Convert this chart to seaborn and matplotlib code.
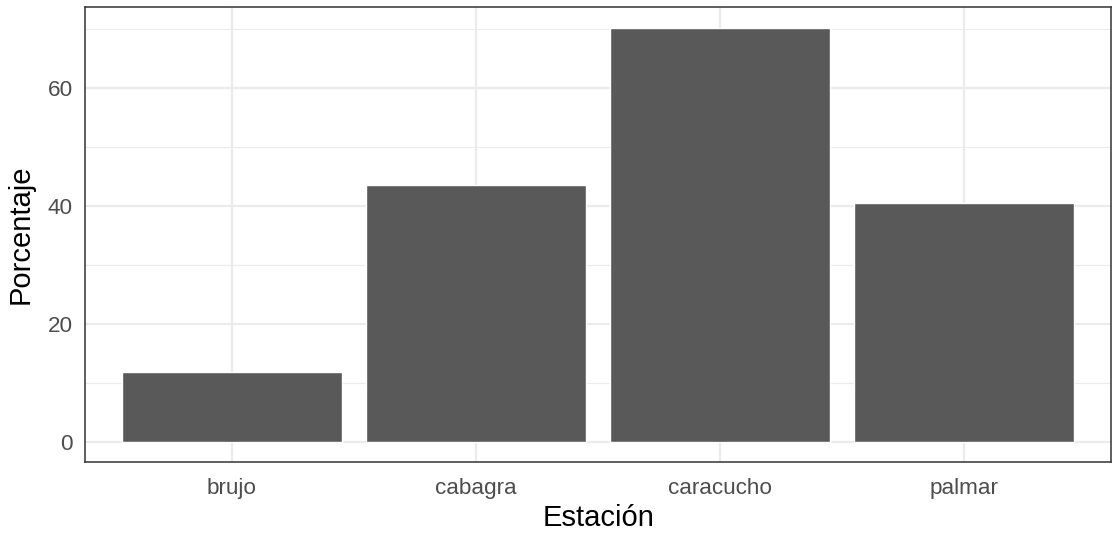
import pandas as pd
import matplotlib.pyplot as plt
import seaborn as sns

# Porcentaje por estacion
estaciones = ['brujo', 'cabagra', 'caracucho', 'palmar']
porcentajes = [11.8, 43.5, 70.3, 40.6]

df = pd.DataFrame({'Estación': estaciones, 'Porcentaje': porcentajes})

sns.set_style('white')
plt.rcParams['font.family'] = ['Liberation Sans', 'DejaVu Sans']

fig = plt.figure(figsize=(11.13, 5.36), dpi=100)
ax = fig.add_axes([0.0767, 0.1375, 0.9213, 0.8495])

sns.barplot(x='Estación', y='Porcentaje', data=df, color='#595959',
            saturation=1, width=0.9, ax=ax, zorder=3)

# theme_bw style grid
ax.set_axisbelow(True)
ax.set_yticks([0, 20, 40, 60])
ax.set_yticks([10, 30, 50, 70], minor=True)
ax.grid(which='major', color='#EBEBEB', linewidth=1.6)
ax.grid(which='minor', axis='y', color='#EBEBEB', linewidth=0.8)
ax.set_xlim(-0.6, 3.6)
ymax = max(porcentajes)
ax.set_ylim(-0.05 * ymax, ymax * 1.05)

for s in ax.spines.values():
    s.set_color('#333333')
    s.set_linewidth(1.1)
    s.set_visible(True)

ax.tick_params(axis='both', which='major', length=5, width=1.1, color='#333333',
               labelsize=16.2, labelcolor='#4D4D4D')
ax.tick_params(axis='x', pad=6)
ax.tick_params(axis='y', pad=4)
ax.tick_params(axis='both', which='minor', length=0)

ax.set_xlabel('Estación', fontsize=21, color='black', labelpad=4)
ax.set_ylabel('Porcentaje', fontsize=21, color='black', labelpad=9)

plt.savefig('out.png', dpi=100)
